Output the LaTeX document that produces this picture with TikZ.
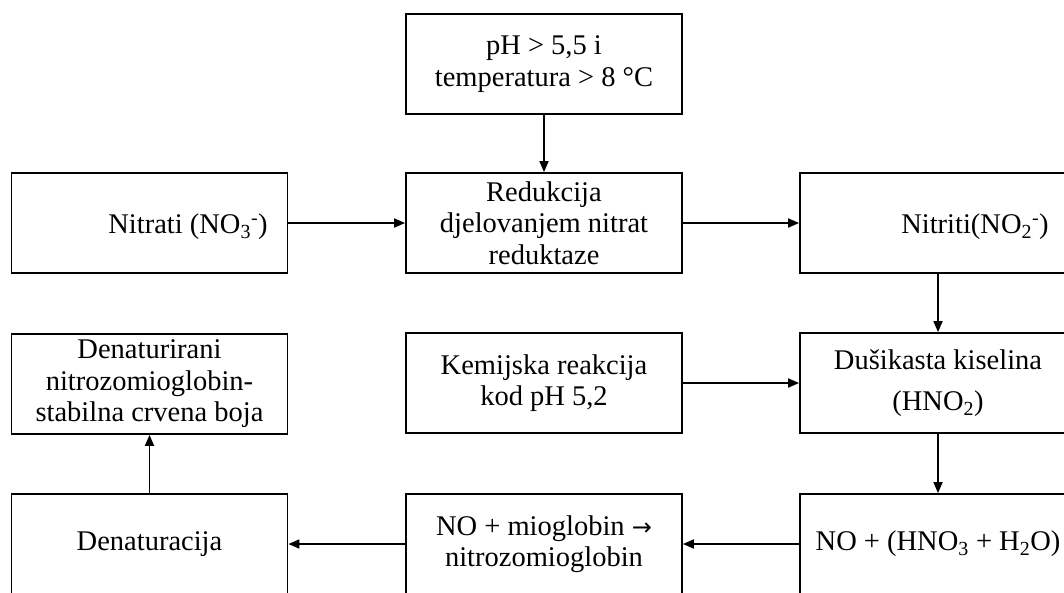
\documentclass[tikz,border=0pt]{standalone}
\usepackage{fontspec}
\setmainfont{Liberation Serif}
\newfontfamily\arrowfont{DejaVu Sans}
\usetikzlibrary{arrows.meta}
\begin{document}
\begin{tikzpicture}[x=1pt,y=-1pt,
  box/.style={draw,line width=1.8pt,minimum width=276pt,minimum height=100pt,inner sep=0pt,align=center,
    font=\fontsize{28.5}{31.5}\selectfont},
  lbl/.style={inner sep=0pt,font=\fontsize{28.5}{31.5}\selectfont},
  conn/.style={line width=1.8pt,-{Triangle[length=11pt,width=9pt]}}]
\useasboundingbox (0,0) rectangle (1064,592);
\clip (0,0) rectangle (1064,592);
% row 1
\node[box] (cond) at (544,64) {pH > 5,5 i\\temperatura > 8 °C};
% row 2
\node[box] (nitrati) at (149.5,223) {};
\node[lbl] (nitratiT) at (188,227) {Nitrati (NO\textsubscript{3}\textsuperscript{-})};
\node[box] (red) at (544,223) {Redukcija\\djelovanjem nitrat\\reduktaze};
\node[box] (nitriti) at (938,223) {};
\node[lbl] (nitritiT) at (975,227) {Nitriti(NO\textsubscript{2}\textsuperscript{-})};
% row 3
\node[box] (stab) at (149.5,384) {Denaturirani\\nitrozomioglobin-\\stabilna crvena boja};
\node[box] (kem) at (544,383) {Kemijska reakcija\\kod pH 5,2};
\node[box] (dus) at (938,383) {Dušikasta kiselina\\[10pt](HNO\textsubscript{2})};
% row 4
\node[box] (denat) at (149.5,544) {Denaturacija};
\node[box] (nomio) at (544,544) {NO + mioglobin {\arrowfont\fontsize{24}{28}\selectfont →}\\nitrozomioglobin};
\node[box] (nohno) at (938,544) {NO + (HNO\textsubscript{3} + H\textsubscript{2}O)};
% connectors
\draw[conn] (cond) -- (red);
\draw[conn] (nitrati) -- (red);
\draw[conn] (red) -- (nitriti);
\draw[conn] (nitriti) -- (dus);
\draw[conn] (kem) -- (dus);
\draw[conn] (dus) -- (nohno);
\draw[conn] (nohno) -- (nomio);
\draw[conn] (nomio) -- (denat);
\draw[conn] (denat) -- (stab);
\end{tikzpicture}
\end{document}
